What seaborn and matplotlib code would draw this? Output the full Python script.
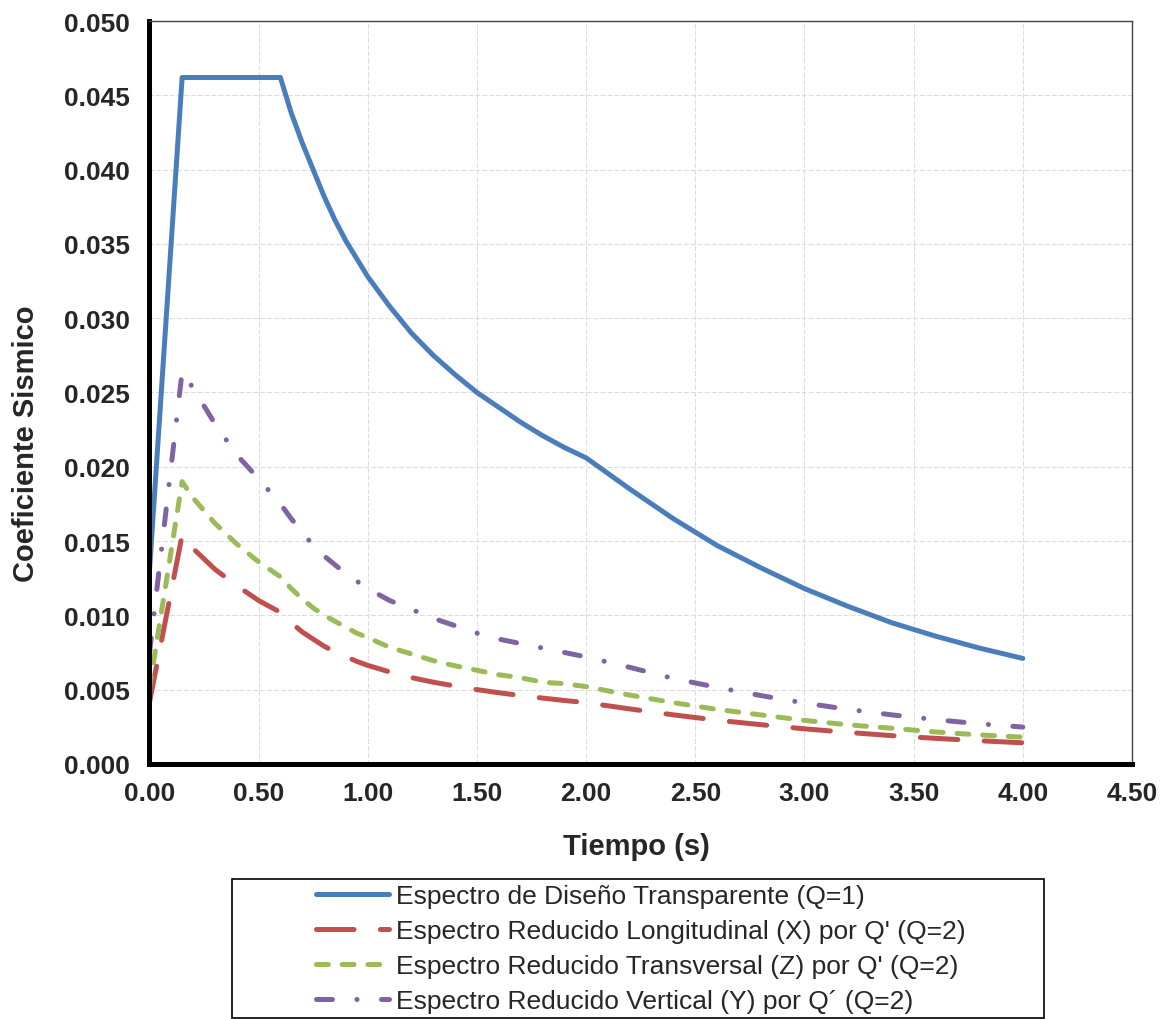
import matplotlib
matplotlib.use("Agg")
import matplotlib.pyplot as plt
import seaborn as sns
import pandas as pd
from matplotlib.patches import Rectangle

periodo = [0.0, 0.15, 0.2, 0.3, 0.4, 0.5, 0.6, 0.65, 0.7, 0.75, 0.8, 0.85, 0.9, 0.95, 1.0,
           1.1, 1.2, 1.3, 1.4, 1.5, 1.6, 1.7, 1.8, 1.9, 2.0,
           2.2, 2.4, 2.6, 2.8, 3.0, 3.2, 3.4, 3.6, 3.8, 4.0]

transparente = [0.0129, 0.0462, 0.0462, 0.0462, 0.0462, 0.0462, 0.0462, 0.0438, 0.0418, 0.0400,
                0.0382, 0.0366, 0.0352, 0.0340, 0.0328,
                0.0308, 0.0290, 0.0275, 0.0262, 0.0250, 0.0240, 0.0230, 0.0221, 0.0213, 0.0206,
                0.0185, 0.0165, 0.0147, 0.0132, 0.0118, 0.0106, 0.0095, 0.0086, 0.0078, 0.0071]

longitudinal = [0.0041, 0.0154, 0.0145, 0.0131, 0.0120, 0.0110, 0.0102, 0.0095, 0.00888, 0.0084,
                0.00792, 0.00755, 0.00722, 0.0069, 0.00663,
                0.00619, 0.00581, 0.0055, 0.00524, 0.0050, 0.00479, 0.0046, 0.00443, 0.00427, 0.00412,
                0.0037, 0.0033, 0.00294, 0.00264, 0.00236, 0.00212, 0.0019, 0.00172, 0.00156, 0.00142]

transversal = [0.0051, 0.0190, 0.0179, 0.0162, 0.0148, 0.0136, 0.0126, 0.0118, 0.0111, 0.0105,
               0.0100, 0.0096, 0.0092, 0.0088, 0.0085,
               0.00785, 0.0074, 0.00695, 0.0066, 0.0063, 0.0060, 0.0058, 0.0055, 0.0054, 0.0052,
               0.00463, 0.00412, 0.00367, 0.0033, 0.00293, 0.00263, 0.0024, 0.00215, 0.00195, 0.0018]

vertical = [0.0074, 0.0264, 0.0253, 0.0229, 0.0208, 0.0192, 0.0175, 0.0165, 0.0156, 0.0147,
            0.0140, 0.0134, 0.0128, 0.0123, 0.0118,
            0.0110, 0.0104, 0.0098, 0.0093, 0.0088, 0.0084, 0.0081, 0.0078, 0.0075, 0.0072,
            0.0065, 0.00575, 0.00515, 0.0046, 0.0041, 0.00367, 0.0033, 0.00298, 0.0027, 0.00248]

etiquetas = ["Espectro de Diseño Transparente (Q=1)",
             "Espectro Reducido Longitudinal (X) por Q' (Q=2)",
             "Espectro Reducido Transversal (Z) por Q' (Q=2)",
             "Espectro Reducido Vertical (Y) por Q´ (Q=2)"]

xticks = [0.0, 0.5, 1.0, 1.5, 2.0, 2.5, 3.0, 3.5, 4.0, 4.5]
xtick_labels = ["0.00", "0.50", "1.00", "1.50", "2.00", "2.50", "3.00", "3.50", "4.00", "4.50"]
yticks = [0.0, 0.005, 0.01, 0.015, 0.02, 0.025, 0.03, 0.035, 0.04, 0.045, 0.05]
ytick_labels = ["0.000", "0.005", "0.010", "0.015", "0.020", "0.025", "0.030", "0.035", "0.040", "0.045", "0.050"]

colores = ["#4A7EBB", "#C0504D", "#9BBB59", "#8064A2"]
estilos = ["-", (0, (27, 19)), (0, (8.5, 10)), (0, (11.5, 17.6, 0.1, 17.6))]

sns.set_style("white")
plt.rcParams['font.family'] = ['Liberation Sans', 'DejaVu Sans']
plt.rcParams['lines.scale_dashes'] = False
plt.rcParams['lines.dash_capstyle'] = 'round'
plt.rcParams['lines.solid_capstyle'] = 'round'

df = pd.DataFrame({'Tiempo': periodo, 'Transparente': transparente,
                   'Longitudinal': longitudinal, 'Transversal': transversal,
                   'Vertical': vertical})
columnas = ['Transparente', 'Longitudinal', 'Transversal', 'Vertical']

fig = plt.figure(figsize=(11.67, 10.2), dpi=100)
ax = fig.add_axes([0.128, 0.2501, 0.842, 0.7283])

for col, c, ls in zip(columnas, colores, estilos):
    sns.lineplot(data=df, x='Tiempo', y=col, ax=ax, color=c, linewidth=3.6,
                 linestyle=ls, estimator=None, sort=False, legend=False)

ax.set_xlim(0, 4.5)
ax.set_ylim(0, 0.05)
ax.set_xticks(xticks, labels=xtick_labels, fontsize=19, fontweight='bold')
ax.set_yticks(yticks, labels=ytick_labels, fontsize=19, fontweight='bold')
ax.tick_params(direction='out', length=5, width=3.6, color='black')
ax.tick_params(axis='x', pad=7)
ax.tick_params(axis='y', pad=9)

ax.grid(True, color='#dddddd', linestyle=(0, (3, 2)), linewidth=0.8)
ax.set_axisbelow(True)

for s in ['left', 'bottom']:
    ax.spines[s].set_linewidth(3.6)
    ax.spines[s].set_color('black')
for s in ['top', 'right']:
    ax.spines[s].set_linewidth(1.0)
    ax.spines[s].set_color('#444444')

ax.set_xlabel('Tiempo (s)', fontsize=21, fontweight='bold', va='center')
ax.xaxis.set_label_coords(0.496, -0.110)
ax.set_ylabel('Coeficiente Sismico', fontsize=21, fontweight='bold', va='center', ha='center')
ax.yaxis.set_label_coords(-0.126, 0.432)

# Cuadro de la leyenda (mas ancho que su contenido, como en Excel)
caja = Rectangle((232 / 1167, 1 - 1019 / 1020), (1044 - 232) / 1167, (1019 - 880) / 1020,
                 transform=fig.transFigure, fill=False, edgecolor='black', linewidth=1.2)
fig.add_artist(caja)

handles = ax.get_lines()[:4]
fig.legend(handles, etiquetas, loc='upper left', bbox_to_anchor=(316 / 1167, 1 - 885 / 1020),
           frameon=False, fontsize=19, handlelength=2.75, handletextpad=0.3,
           labelspacing=0.42, borderpad=0, borderaxespad=0)

fig.savefig('out.png', dpi=100)
plt.close()
